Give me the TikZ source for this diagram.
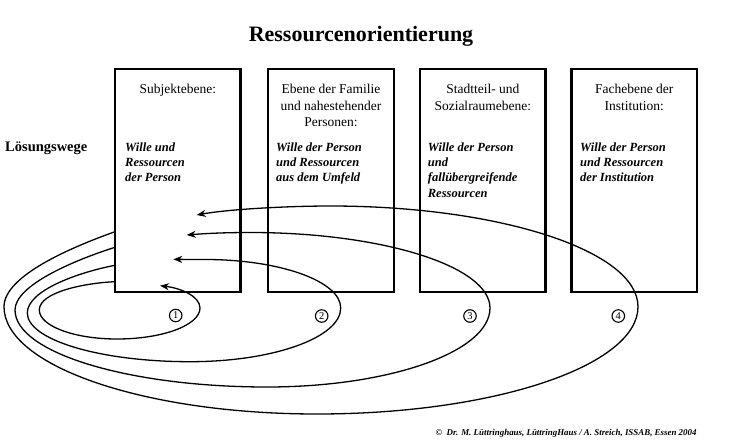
\documentclass[tikz,border=0pt]{standalone}
\usepackage{fontspec}
\setmainfont{Liberation Serif}
\usetikzlibrary{arrows.meta}
\begin{document}
\begin{tikzpicture}[x=1pt,y=-1pt,
  stage/.style={draw,line width=2.4pt,minimum width=125.5pt,minimum height=223pt,inner sep=0pt},
  head/.style={anchor=north,align=center,inner sep=0pt,font=\fontsize{13.5}{16.5}\selectfont},
  will/.style={anchor=north west,align=left,inner sep=0pt,font=\fontsize{12.5}{15.3}\selectfont\bfseries\itshape},
  loopline/.style={line width=1.3pt,-{Stealth[length=9pt,width=7pt]}},
  num/.style={draw,circle,line width=1.1pt,inner sep=0pt,minimum size=12.5pt,font=\fontsize{10.5}{10.5}\selectfont}]
\useasboundingbox (0,0) rectangle (750,444);
\fill[white] (0,0) rectangle (750,444);

% title and row label
\node[anchor=base,inner sep=0pt,font=\fontsize{22}{22}\selectfont\bfseries] (title) at (361,41.7) {Ressourcenorientierung};
\node[anchor=base west,inner sep=0pt,font=\fontsize{14.5}{14.5}\selectfont\bfseries] (lw) at (5,151) {Lösungswege};

% boxes
\node[stage] (b1) at (177.75,180.5) {};
\node[stage] (b2) at (331,180.5) {};
\node[stage] (b3) at (482.85,180.5) {};
\node[stage] (b4) at (634.2,180.5) {};

% headers
\node[head] (h1) at (177.75,84.3) {Subjektebene:};
\node[head] (h2) at (331,84.3) {Ebene der Familie\\und nahestehender\\Personen:};
\node[head] (h3) at (482.85,84.3) {Stadtteil- und\\Sozialraumebene:};
\node[head] (h4) at (634.2,84.3) {Fachebene der\\Institution:};

% italic texts
\node[will] (w1) at (125,142.5) {Wille und\\Ressourcen\\der Person};
\node[will] (w2) at (276,142.5) {Wille der Person\\und Ressourcen\\aus dem Umfeld};
\node[will] (w3) at (427.7,142.5) {Wille der Person\\und\\fallübergreifende\\Ressourcen};
\node[will] (w4) at (580,142.5) {Wille der Person\\und Ressourcen\\der Institution};

% circled numbers
\node[num] (n1) at (175.7,315.5) {1};
\node[num] (n2) at (321.7,316) {2};
\node[num] (n3) at (470,316) {3};
\node[num] (n4) at (618.3,316) {4};

% loop end points
\coordinate (s1) at (115,281.7);
\coordinate (s2) at (115,265.3);
\coordinate (s3) at (115,247.3);
\coordinate (s4) at (115,231.7);
\coordinate (a1) at (160,285.7);
\coordinate (a2) at (173.3,259.3);
\coordinate (a3) at (186.7,235);
\coordinate (a4) at (196.7,215);

% loops
\draw[loopline] (s1) .. controls (85,283) and (39.3,292) .. (39.3,310)
  .. controls (39.3,326) and (74.1,339) .. (117,339)
  .. controls (162.8,339) and (200,325.1) .. (200,308)
  .. controls (200,296) and (180,288) .. (a1);
\draw[loopline] (s2) .. controls (80,272) and (27.3,290) .. (27.3,313)
  .. controls (27.3,339.9) and (100.2,361.7) .. (190,361.7)
  .. controls (273.2,361.7) and (340.7,337.6) .. (340.7,308)
  .. controls (340.7,281.2) and (279.9,259.5) .. (205,259.5)
  .. controls (192,259.5) and (183,259.4) .. (a2);
\draw[loopline] (s3) .. controls (75,260) and (15,285) .. (15,310)
  .. controls (15,352.5) and (128,387) .. (267,387)
  .. controls (390,387) and (490,351.6) .. (490,308)
  .. controls (490,266.3) and (382.5,232.5) .. (250,232.5)
  .. controls (225,232.5) and (205,233.5) .. (a3);
\draw[loopline] (s4) .. controls (75,246) and (4,275) .. (4,306.7)
  .. controls (4,365.8) and (144,414) .. (317,414)
  .. controls (494,414) and (638,365.8) .. (638,306.7)
  .. controls (638,251) and (500,206) .. (330,206)
  .. controls (290,206) and (230,209) .. (a4);

% copyright
\node[anchor=base east,inner sep=0pt,font=\fontsize{8.9}{8.9}\selectfont\bfseries\itshape] (copy) at (696.7,435) {©\ \ Dr. M. Lüttringhaus, LüttringHaus / A. Streich, ISSAB, Essen 2004};
\end{tikzpicture}
\end{document}
